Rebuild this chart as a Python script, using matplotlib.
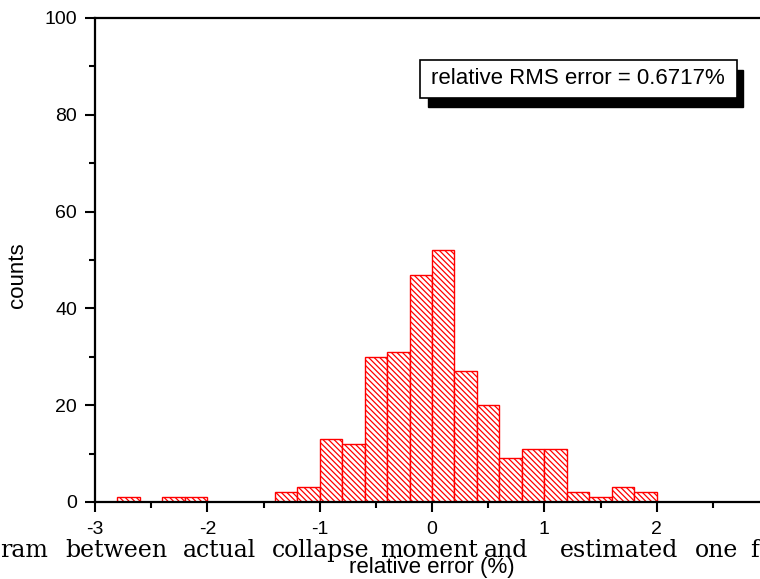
#!/usr/bin/env python3

import matplotlib as mpl
import matplotlib.pyplot as plt
from matplotlib.patches import Rectangle

# Histogram of relative error, bins of 0.2 % (left edges) and counts.
bin_left = [-2.8, -2.6, -2.4, -2.2, -2.0, -1.8, -1.6, -1.4, -1.2, -1.0,
            -0.8, -0.6, -0.4, -0.2, 0.0, 0.2, 0.4, 0.6, 0.8, 1.0,
            1.2, 1.4, 1.6, 1.8]
counts = [1, 0, 1, 1, 0, 0, 0, 2, 3, 13,
          12, 30, 31, 47, 52, 27, 20, 9, 11, 11,
          2, 1, 3, 2]
bin_width = 0.2

xticks = [-3, -2, -1, 0, 1, 2, 3]
yticks = [0, 20, 40, 60, 80, 100]

rms_label = "relative RMS error = 0.6717%"

# Words of the document caption that shows through under the chart.
caption_words = ["ram", "between", "actual", "collapse", "moment",
                 "and", "estimated", "one", "f"]
caption_x_px = [0, 65, 183, 272, 380, 484, 560, 695, 750]

W, H = 760, 579
DPI = 100

style = {
    'font.family': ['Liberation Sans', 'DejaVu Sans'],
    'axes.unicode_minus': False,
    'axes.linewidth': 1.6,
    'hatch.color': 'red',
    'hatch.linewidth': 0.9,
    'xtick.direction': 'out',
    'ytick.direction': 'out',
    'xtick.major.size': 7,
    'xtick.minor.size': 4,
    'ytick.major.size': 7,
    'ytick.minor.size': 4,
    'xtick.major.width': 1.5,
    'xtick.minor.width': 1.5,
    'ytick.major.width': 1.5,
    'ytick.minor.width': 1.5,
}
for k, v in style.items():
    mpl.rcParams[k] = v


def px_box(x0, y0, x1, y1):
    """Pixel box (top-left origin) -> figure fraction [l, b, w, h]."""
    return [x0 / W, 1 - y1 / H, (x1 - x0) / W, (y1 - y0) / H]


def main():
    fig = plt.figure(figsize=(W / DPI, H / DPI), dpi=DPI)

    # axes run from -3 (px 95) to 3 (px 769), i.e. a bit past the right edge
    ax = fig.add_axes(px_box(95, 18, 769, 502))

    for left, c in zip(bin_left, counts):
        if c == 0:
            continue
        ax.bar(left, c, width=bin_width, align='edge', facecolor='white',
               edgecolor='red', linewidth=1.0, hatch='\\' * 6)

    ax.set_xlim(-3, 3)
    ax.set_ylim(0, 100)
    ax.set_xticks(xticks)
    ax.set_xticklabels([str(t) for t in xticks])
    ax.set_yticks(yticks)
    ax.set_xticks([t + 0.5 for t in xticks[:-1]], minor=True)
    ax.set_yticks([t + 10 for t in yticks[:-1]], minor=True)
    ax.tick_params(axis='x', which='major', labelsize=14, pad=7)
    ax.tick_params(axis='y', which='major', labelsize=14, pad=6)
    ax.spines['right'].set_visible(False)

    ax.set_xlabel("relative error (%)", fontsize=16)
    ax.xaxis.set_label_coords(0.5, -0.114)
    ax.set_ylabel("counts", fontsize=16)
    ax.yaxis.set_label_coords(-0.099, 0.469)

    # text box with a black drop shadow, placed in pixels
    fig.add_artist(Rectangle((428 / W, 1 - 107 / H), 315 / W, 37 / H,
                             transform=fig.transFigure, facecolor='black',
                             edgecolor='black', zorder=5))
    fig.add_artist(Rectangle((420 / W, 1 - 98 / H), 317 / W, 38 / H,
                             transform=fig.transFigure, facecolor='white',
                             edgecolor='black', linewidth=1.2, zorder=6))
    fig.text(578 / W, 1 - 79 / H, rms_label, fontsize=16,
             ha='center', va='center', zorder=7)

    for word, x in zip(caption_words, caption_x_px):
        fig.text(x / W, 1 - 557 / H, word, fontsize=17,
                 family='DejaVu Serif', ha='left', va='baseline', zorder=3)

    fig.savefig("out.png", dpi=DPI)


if __name__ == "__main__":
    main()
